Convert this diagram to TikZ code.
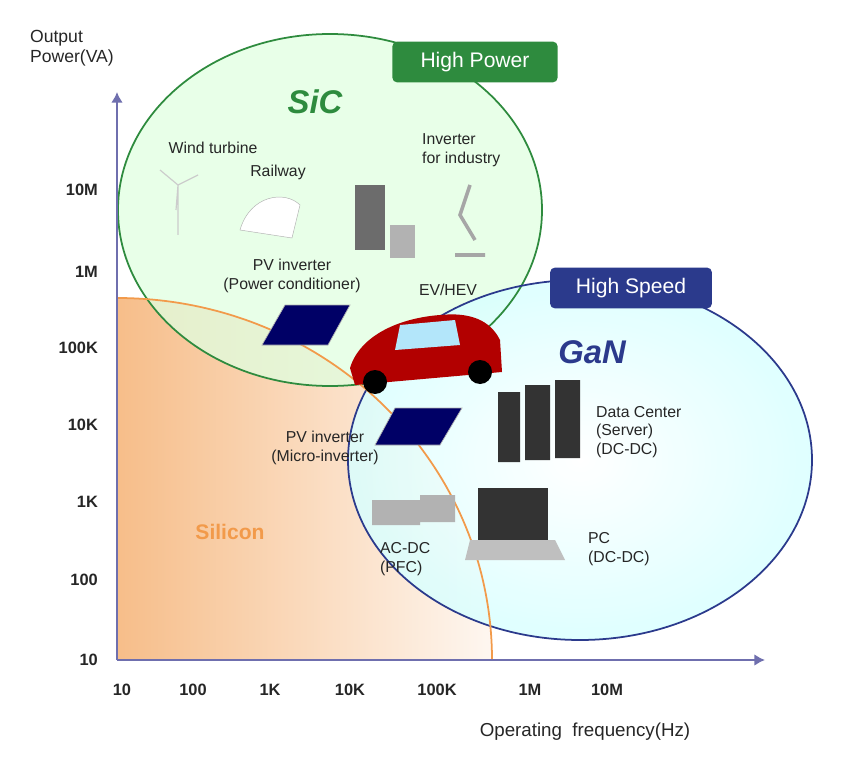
\documentclass[tikz,border=0pt]{standalone}
\usepackage{fontspec}
\setmainfont{Liberation Sans}
\usetikzlibrary{arrows.meta}
\begin{document}
\begin{tikzpicture}[x=0.03cm,y=-0.03cm,
 lab/.style={font=\fontsize{13.5}{16}\selectfont, text=black!85},
 tick/.style={font=\bfseries\fontsize{14}{16}\selectfont, text=black!85},
 ax/.style={draw=axc, line width=2.2pt, -{Latex[length=9pt,width=10pt]}},
 panel/.style={fill=blue!40!black, draw=gray!60, line width=0.6pt}]
\definecolor{axc}{HTML}{6F6FAE}
\definecolor{sicc}{HTML}{2E8B3E}
\definecolor{ganc}{HTML}{2B3A8C}
\definecolor{orng}{HTML}{F29A4A}
\useasboundingbox (0,0) rectangle (850,766);
% silicon region
\shade[left color=orng!65, right color=orng!8] (117,660) -- (117,298) arc[start angle=-90,end angle=0,x radius=375,y radius=362] -- cycle;
% ellipses
\fill[green!12, opacity=0.75] (330,210) ellipse[x radius=212,y radius=176];
\shade[inner color=white, outer color=cyan!15, opacity=0.85] (580,460) ellipse[x radius=232,y radius=180];
\draw[sicc, line width=1.5pt] (330,210) ellipse[x radius=212,y radius=176];
\draw[ganc, line width=1.5pt] (580,460) ellipse[x radius=232,y radius=180];
\draw[orng, line width=1.5pt] (117,298) arc[start angle=-90,end angle=0,x radius=375,y radius=362];
% axes
\coordinate (o) at (117,660); \coordinate (yt) at (117,92); \coordinate (xt) at (765,660);
\draw[ax] (o) -- (yt); \draw[ax] (o) -- (xt);
% tick labels
\foreach \t/\y in {10M/190,1M/272,100K/348,10K/425,1K/502,100/580,10/660}
  \node[tick, anchor=east] (y\t) at (102,\y) {\t};
\foreach \t/\x in {10/122,100/193,1K/270,10K/350,100K/437,1M/530,10M/607}
  \node[tick] (x\t) at (\x,690) {\t};
\node[lab, align=left, anchor=north west, font=\fontsize{15}{17}\selectfont] (ylab) at (26,26) {Output\\Power(VA)};
\node[lab, font=\fontsize{16}{18}\selectfont] (xlab) at (585,732) {Operating\ \ frequency(Hz)};
% boxes
\node[fill=sicc, rounded corners=4pt, text=white, font=\fontsize{18}{20}\selectfont, inner xsep=24pt, inner ysep=9pt] (hp) at (475,62) {High Power};
\node[fill=ganc, rounded corners=4pt, text=white, font=\fontsize{18}{20}\selectfont, inner xsep=22pt, inner ysep=9pt] (hs) at (631,288) {High Speed};
\node[text=sicc, font=\bfseries\itshape\fontsize{28}{30}\selectfont] (sic) at (315,102) {SiC};
\node[text=ganc, font=\bfseries\itshape\fontsize{28}{30}\selectfont] (gan) at (592,352) {GaN};
\node[text=orng, font=\bfseries\fontsize{18}{20}\selectfont] (si) at (230,532) {Silicon};
% labels
\node[lab] (wt) at (213,148) {Wind turbine};
\node[lab] (rw) at (278,172) {Railway};
\node[lab, align=left, anchor=west] (ind) at (418,150) {Inverter\\for industry};
\node[lab, align=center] (pv1) at (292,276) {PV inverter\\(Power conditioner)};
\node[lab] (ev) at (448,290) {EV/HEV};
\node[lab, align=left, anchor=west] (dc) at (592,432) {Data Center\\(Server)\\(DC-DC)};
\node[lab, align=center] (pv2) at (325,448) {PV inverter\\(Micro-inverter)};
\node[lab, align=left, anchor=west] (acdc) at (376,559) {AC-DC\\(PFC)};
\node[lab, align=left, anchor=west] (pc) at (584,549) {PC\\(DC-DC)};
% simple pictograms
\draw[gray!40, line width=1pt] (178,185)--(178,235) (178,185)--(160,170) (178,185)--(198,175) (178,185)--(176,210);
\draw[gray!60,fill=white] (240,230) .. controls (250,195) and (285,190) .. (300,205) -- (292,238) -- cycle;
\fill[gray!85!black] (355,185) rectangle (385,250);
\fill[gray!60] (390,225) rectangle (415,258);
\draw[gray!70, line width=3pt] (470,185)--(460,215)--(475,240) (455,255)--(485,255);
\draw[panel] (285,305) -- (350,305) -- (328,345) -- (262,345) -- cycle;
\fill[red!70!black] (350,368) .. controls (360,335) and (400,318) .. (440,315) .. controls (470,312) and (490,320) .. (500,340) -- (502,372) -- (355,385) -- cycle;
\fill[black] (375,382) circle (12) (480,372) circle (12);
\fill[cyan!30] (400,325) -- (455,320) -- (460,345) -- (395,350) -- cycle;
\draw[panel] (395,408) -- (462,408) -- (440,445) -- (375,445) -- cycle;
\fill[black!80] (498,392) rectangle (520,462) (525,385) rectangle (550,460) (555,380) rectangle (580,458);
\fill[gray!60] (372,500) rectangle (420,525) (420,495) rectangle (455,522);
\fill[black!80] (478,488) rectangle (548,540);
\fill[gray!50] (470,540) -- (555,540) -- (565,560) -- (465,560) -- cycle;
\end{tikzpicture}
\end{document}
